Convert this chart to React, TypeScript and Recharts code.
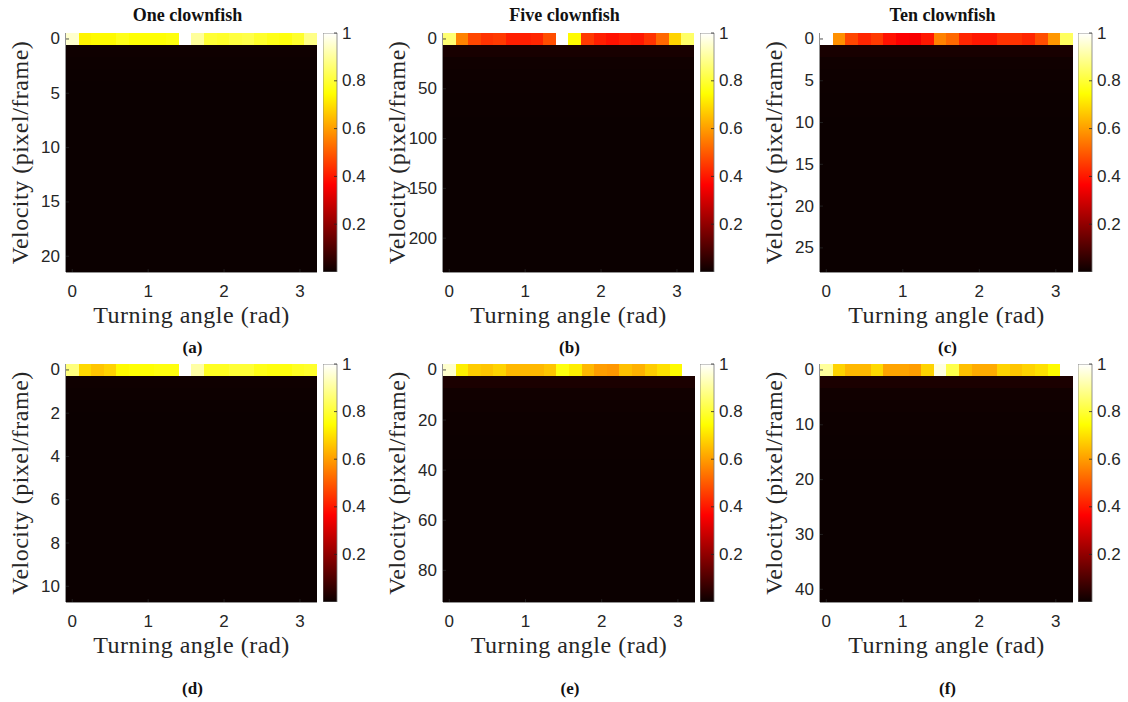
import React from 'react';
import { ScatterChart, Scatter, XAxis, YAxis, BarChart, Bar } from 'recharts';

// turning angle bin centres (rad), 20 bins 0..pi
const angleBins = [0, 0.165, 0.331, 0.496, 0.661, 0.827, 0.992, 1.158, 1.323, 1.488, 1.653, 1.819, 1.984, 2.149, 2.315, 2.48, 2.645, 2.811, 2.976, 3.142];
const angleTicks = [0, 1, 2, 3];

// velocity bin centres per panel
const velA = [0, 1.1, 2.2, 3.3, 4.4, 5.5, 6.6, 7.7, 8.8, 9.9, 11, 12.1, 13.2, 14.3, 15.4, 16.5, 17.6, 18.7, 19.8, 20.9];
const velB = [0, 12, 24, 36, 48, 60, 72, 84, 96, 108, 120, 132, 144, 156, 168, 180, 192, 204, 216, 228];
const velC = [0, 1.43, 2.86, 4.29, 5.72, 7.15, 8.58, 10.01, 11.44, 12.87, 14.3, 15.73, 17.16, 18.59, 20.02, 21.45, 22.88, 24.31, 25.74, 27.17];
const velD = [0, 0.55, 1.1, 1.65, 2.2, 2.75, 3.3, 3.85, 4.4, 4.95, 5.5, 6.05, 6.6, 7.15, 7.7, 8.25, 8.8, 9.35, 9.9, 10.45];
const velE = [0, 4.75, 9.5, 14.25, 19, 23.75, 28.5, 33.25, 38, 42.75, 47.5, 52.25, 57, 61.75, 66.5, 71.25, 76, 80.75, 85.5, 90.25];
const velF = [0, 2.17, 4.34, 6.51, 8.68, 10.85, 13.02, 15.19, 17.36, 19.53, 21.7, 23.87, 26.04, 28.21, 30.38, 32.55, 34.72, 36.89, 39.06, 41.23];

// first velocity row (normalised frequency per angle bin)
const topA = [0.95, 0.73, 0.74, 0.74, 0.77, 0.75, 0.75, 0.75, 0.76, 1.0, 0.9, 0.8, 0.79, 0.81, 0.82, 0.79, 0.77, 0.76, 0.79, 0.88];
const topB = [0.86, 0.56, 0.47, 0.44, 0.45, 0.41, 0.41, 0.42, 0.48, 1.0, 0.74, 0.45, 0.41, 0.39, 0.41, 0.4, 0.44, 0.52, 0.68, 0.85];
const topC = [1.0, 0.58, 0.47, 0.42, 0.45, 0.39, 0.36, 0.355, 0.4, 0.56, 0.52, 0.42, 0.4, 0.4, 0.44, 0.44, 0.42, 0.48, 0.59, 0.84];
const topD = [0.87, 0.69, 0.66, 0.68, 0.74, 0.75, 0.75, 0.76, 0.76, 1.0, 0.91, 0.78, 0.78, 0.8, 0.8, 0.77, 0.76, 0.76, 0.78, 0.79];
const topE = [0.95, 0.72, 0.67, 0.66, 0.68, 0.64, 0.64, 0.64, 0.66, 0.76, 0.72, 0.64, 0.6, 0.59, 0.65, 0.63, 0.67, 0.7, 0.74, 1.0];
const topF = [0.9, 0.68, 0.64, 0.64, 0.69, 0.61, 0.61, 0.6, 0.68, 0.97, 0.82, 0.65, 0.62, 0.62, 0.68, 0.66, 0.68, 0.7, 0.74, 1.0];

// remaining velocity rows (almost empty)
const lowA = [0.006, 0.003, 0.002, 0.001, 0.001, 0.001, 0, 0, 0, 0, 0, 0, 0, 0, 0, 0, 0, 0, 0];
const lowB = [0.02, 0.008, 0.005, 0.003, 0.002, 0.002, 0.001, 0.001, 0.001, 0.001, 0, 0, 0, 0, 0, 0, 0, 0, 0];
const lowC = [0.02, 0.008, 0.005, 0.003, 0.002, 0.002, 0.001, 0.001, 0.001, 0.001, 0, 0, 0, 0, 0, 0, 0, 0, 0];
const lowD = [0.006, 0.003, 0.002, 0.001, 0.001, 0.001, 0, 0, 0, 0, 0, 0, 0, 0, 0, 0, 0, 0, 0];
const lowE = [0.025, 0.01, 0.006, 0.004, 0.003, 0.002, 0.002, 0.001, 0.001, 0.001, 0, 0, 0, 0, 0, 0, 0, 0, 0];
const lowF = [0.025, 0.01, 0.006, 0.004, 0.003, 0.002, 0.002, 0.001, 0.001, 0.001, 0, 0, 0, 0, 0, 0, 0, 0, 0];

const yTicksA = [0, 5, 10, 15, 20];
const yTicksB = [0, 50, 100, 150, 200];
const yTicksC = [0, 5, 10, 15, 20, 25];
const yTicksD = [0, 2, 4, 6, 8, 10];
const yTicksE = [0, 20, 40, 60, 80];
const yTicksF = [0, 10, 20, 30, 40];

const cbTicks = [0.2, 0.4, 0.6, 0.8, 1];
const cbData = [{ name: 'range', max: 1 }];

const titles = ['One clownfish', 'Five clownfish', 'Ten clownfish'];
const captions = ['(a)', '(b)', '(c)', '(d)', '(e)', '(f)'];
const xLabel = 'Turning angle (rad)';
const yLabel = 'Velocity (pixel/frame)';

// MATLAB-like hot colormap
function hot(v: number) {
  const i = 1 + Math.max(0, Math.min(1, v)) * 63;
  const r = Math.min(1, i / 24);
  const g = Math.max(0, Math.min(1, (i - 24) / 24));
  const b = Math.max(0, Math.min(1, (i - 48) / 16));
  return `rgb(${Math.round(r * 255)},${Math.round(g * 255)},${Math.round(b * 255)})`;
}

const INK = '#262626';
const SANS = '"Liberation Sans", Arial, sans-serif';
const SERIF = '"Liberation Serif", "Times New Roman", serif';
const TICK_FS = 17;

const panels = [
  { key: 'a', vel: velA, row0: topA, rest: lowA, yTicks: yTicksA, px: 66, py: 33, pw: 251, ph: 239, cbx: 323 },
  { key: 'b', vel: velB, row0: topB, rest: lowB, yTicks: yTicksB, px: 443, py: 33, pw: 251, ph: 239, cbx: 700 },
  { key: 'c', vel: velC, row0: topC, rest: lowC, yTicks: yTicksC, px: 820, py: 33, pw: 253, ph: 239, cbx: 1078 },
  { key: 'd', vel: velD, row0: topD, rest: lowD, yTicks: yTicksD, px: 66, py: 364, pw: 251, ph: 238, cbx: 323 },
  { key: 'e', vel: velE, row0: topE, rest: lowE, yTicks: yTicksE, px: 443, py: 364, pw: 252, ph: 238, cbx: 700 },
  { key: 'f', vel: velF, row0: topF, rest: lowF, yTicks: yTicksF, px: 820, py: 364, pw: 253, ph: 238, cbx: 1078 },
];

const BottomTick = (props: any) => {
  const { x, y, payload } = props;
  return (
    <g>
      <line x1={x} x2={x} y1={y} y2={y - 3} stroke={INK} strokeWidth={0.8} />
      <text x={x} y={y + 19} textAnchor="middle" dominantBaseline="central" fontFamily={SANS} fontSize={TICK_FS} fill={INK}>
        {payload.value}
      </text>
    </g>
  );
};

const TopTick = (props: any) => {
  const { x, y } = props;
  return <line x1={x} x2={x} y1={y} y2={y + 3} stroke={INK} strokeWidth={0.8} />;
};

const LeftTick = (props: any) => {
  const { x, y, payload } = props;
  return (
    <g>
      <line x1={x} x2={x + 3} y1={y} y2={y} stroke={INK} strokeWidth={0.8} />
      <text x={x - 6} y={y} textAnchor="end" dominantBaseline="central" fontFamily={SANS} fontSize={TICK_FS} fill={INK}>
        {payload.value}
      </text>
    </g>
  );
};

const RightTick = (props: any) => {
  const { x, y } = props;
  return <line x1={x} x2={x - 3} y1={y} y2={y} stroke={INK} strokeWidth={0.8} />;
};

const CbRightTick = (props: any) => {
  const { x, y, payload } = props;
  return (
    <g>
      <line x1={x} x2={x - 3} y1={y} y2={y} stroke={INK} strokeWidth={0.8} />
      <text x={x + 5} y={y} textAnchor="start" dominantBaseline="central" fontFamily={SANS} fontSize={TICK_FS} fill={INK}>
        {payload.value}
      </text>
    </g>
  );
};

const CbLeftTick = (props: any) => {
  const { x, y } = props;
  return <line x1={x} x2={x + 3} y1={y} y2={y} stroke={INK} strokeWidth={0.8} />;
};

function Heatmap({ p }: { p: any }) {
  const cells: any[] = [];
  p.vel.forEach((v: number, i: number) => {
    angleBins.forEach((a, j) => {
      cells.push({ angle: a, vel: v, val: i === 0 ? p.row0[j] : p.rest[i - 1] });
    });
  });
  const aStep = angleBins[1] - angleBins[0];
  const xDomain = [angleBins[0] - aStep / 2, angleBins[angleBins.length - 1] + aStep / 2];
  const vStep = p.vel[1] - p.vel[0];
  const yDomain = [p.vel[0] - vStep / 2, p.vel[p.vel.length - 1] + vStep / 2];
  const cw = p.pw / angleBins.length;
  const ch = p.ph / p.vel.length;
  const right = p.pw + 60;
  const bottom = p.ph + 10;

  // one image cell, centred on its bin; 1px overlap so no seams show
  const cell = (s: any) => {
    const x0 = Math.round(s.cx - cw / 2);
    const x1 = Math.min(right, Math.round(s.cx + cw / 2) + 1);
    const y0 = Math.round(s.cy - ch / 2);
    const y1 = Math.min(bottom, Math.round(s.cy + ch / 2) + 1);
    return <rect x={x0} y={y0} width={x1 - x0} height={y1 - y0} fill={hot(s.payload.val)} shapeRendering="crispEdges" />;
  };

  return (
    <div style={{ position: 'absolute', left: p.px - 60, top: p.py - 10 }}>
      <ScatterChart width={p.pw + 70} height={p.ph + 40} margin={{ top: 10, right: 10, bottom: 0, left: 0 }}>
        <XAxis xAxisId="b" type="number" dataKey="angle" domain={xDomain} ticks={angleTicks} height={30}
          tickSize={0} tickMargin={0} tick={<BottomTick />} axisLine={{ stroke: INK }} allowDataOverflow />
        <XAxis xAxisId="t" orientation="top" type="number" dataKey="angle" domain={xDomain} ticks={angleTicks} height={0}
          tickSize={0} tickMargin={0} tick={<TopTick />} axisLine={{ stroke: INK }} allowDataOverflow />
        <YAxis yAxisId="l" type="number" dataKey="vel" domain={yDomain} ticks={p.yTicks} reversed width={60}
          tickSize={0} tickMargin={0} tick={<LeftTick />} axisLine={{ stroke: INK }} allowDataOverflow />
        <YAxis yAxisId="r" orientation="right" type="number" dataKey="vel" domain={yDomain} ticks={p.yTicks} reversed width={0}
          tickSize={0} tickMargin={0} tick={<RightTick />} axisLine={{ stroke: INK }} allowDataOverflow />
        <Scatter xAxisId="b" yAxisId="l" data={cells} shape={cell} isAnimationActive={false} />
      </ScatterChart>
    </div>
  );
}

function Colorbar({ p }: { p: any }) {
  const gid = `hot-${p.key}`;
  return (
    <div style={{ position: 'absolute', left: p.cbx, top: p.py - 10 }}>
      <BarChart width={54} height={p.ph + 20} data={cbData} margin={{ top: 10, right: 0, bottom: 10, left: 0 }} barCategoryGap={0}>
        <defs>
          <linearGradient id={gid} x1="0" y1="1" x2="0" y2="0">
            {[0, 0.365, 0.746, 1].map((o) => (
              <stop key={o} offset={`${o * 100}%`} stopColor={hot(o)} />
            ))}
          </linearGradient>
        </defs>
        <XAxis dataKey="name" hide />
        <YAxis yAxisId="l" domain={[0, 1]} ticks={cbTicks} width={0} tickSize={0} tickMargin={0}
          tick={<CbLeftTick />} axisLine={false} allowDataOverflow />
        <YAxis yAxisId="r" orientation="right" domain={[0, 1]} ticks={cbTicks} width={40} tickSize={0} tickMargin={0}
          tick={<CbRightTick />} axisLine={false} allowDataOverflow />
        <Bar yAxisId="r" dataKey="max" fill={`url(#${gid})`} stroke="#7a7a7a" strokeWidth={0.8} isAnimationActive={false} />
      </BarChart>
    </div>
  );
}

export default function App() {
  return (
    <div style={{ position: 'absolute', left: 0, top: 0, width: 1128, height: 702, background: '#fff', overflow: 'hidden' }}>
      {panels.map((p) => (
        <React.Fragment key={p.key}>
          <Heatmap p={p} />
          <Colorbar p={p} />
        </React.Fragment>
      ))}
      {/* titles, axis labels, sub-captions */}
      <svg width={1128} height={702} style={{ position: 'absolute', left: 0, top: 0, pointerEvents: 'none' }}>
        {titles.map((t, i) => (
          <text key={t} x={panels[i].px + panels[i].pw / 2 - 4} y={15} textAnchor="middle" dominantBaseline="central"
            fontFamily={SERIF} fontWeight="bold" fontSize={18} fill="#111">{t}</text>
        ))}
        {panels.map((p, i) => (
          <g key={p.key}>
            <text x={p.px + p.pw / 2} y={p.py + p.ph + 43} textAnchor="middle" dominantBaseline="central"
              fontFamily={SERIF} fontSize={24} letterSpacing={0.5} fill={INK}>{xLabel}</text>
            <text x={p.px - 46} y={p.py + p.ph / 2} textAnchor="middle" dominantBaseline="central"
              transform={`rotate(-90 ${p.px - 46} ${p.py + p.ph / 2})`}
              fontFamily={SERIF} fontSize={24} letterSpacing={0.5} fill={INK}>{yLabel}</text>
            <text x={p.px + p.pw / 2 + 1} y={i < 3 ? 347 : 688} textAnchor="middle" dominantBaseline="central"
              fontFamily={SERIF} fontWeight="bold" fontSize={17} fill="#111">{captions[i]}</text>
          </g>
        ))}
      </svg>
    </div>
  );
}
